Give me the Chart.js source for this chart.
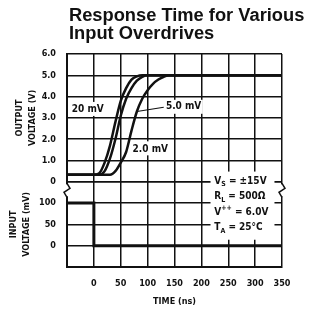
<!DOCTYPE html>
<html>
<head>
<meta charset="utf-8">
<script src="https://cdn.jsdelivr.net/npm/chart.js@4.4.1/dist/chart.umd.min.js"></script>
<style>
  html, body { margin: 0; padding: 0; background: #fff; }
  #wrap { width: 311px; height: 317px; }
</style>
</head>
<body>
<div id="wrap"><canvas id="responseChart"></canvas></div>
<script>
// time axis (ns), -50 gridline is left unlabeled
const timeTicks = [-50, 0, 50, 100, 150, 200, 250, 300, 350];
const outLabels = ['0', '1.0', '2.0', '3.0', '4.0', '5.0', '6.0'];
const inLabels = { 0: '0', 50: '50', 100: '100' };
const titleLines = ['Response Time for Various', 'Input Overdrives'];

// output voltage (V) vs time (ns)
const t20mV = [-50, 0, 10, 20, 30, 40, 50, 60, 70, 80, 90, 350];
const v20mV = [0.33, 0.33, 0.4, 0.9, 1.7, 2.8, 3.8, 4.4, 4.8, 4.95, 5.0, 5.0];
const t5mV = [-50, 10, 20, 30, 40, 50, 60, 70, 80, 90, 100, 350];
const v5mV = [0.33, 0.33, 0.5, 1.1, 2.0, 3.1, 3.9, 4.4, 4.75, 4.93, 5.0, 5.0];
const t2mV = [-50, 30, 40, 50, 60, 70, 80, 90, 100, 110, 120, 130, 140, 350];
const v2mV = [0.33, 0.33, 0.5, 0.9, 1.4, 2.4, 3.3, 3.9, 4.3, 4.6, 4.8, 4.93, 5.0, 5.0];

// input step (mV)
const tInput = [-50, 0, 0, 350];
const vInput = [100, 100, 0, 0];

const ink = '#111';
const tickFont = { family: '"DejaVu Sans Condensed", "Liberation Sans Narrow", "DejaVu Sans", sans-serif', weight: 'bold', size: 9 };
const noteFamily = '"DejaVu Sans Condensed", "Liberation Sans Narrow", "DejaVu Sans", sans-serif';

function pts(xs, ys) {
    return xs.map((x, i) => ({ x: x, y: ys[i] }));
}

function curve(label, xs, ys) {
    return {
        label: label,
        data: pts(xs, ys),
        yAxisID: 'y',
        borderColor: ink,
        borderWidth: 2.5,
        pointRadius: 0,
        showLine: true,
        cubicInterpolationMode: 'monotone'
    };
}

// text drawn with sub/superscripts
function drawParts(ctx, x, y, parts, size) {
    let cx = x;
    parts.forEach(p => {
        const s = p[1] === 'n' ? size : size * 0.7;
        const dy = p[1] === 'sub' ? size * 0.3 : (p[1] === 'sup' ? -size * 0.35 : 0);
        ctx.font = 'bold ' + s + 'px ' + noteFamily;
        ctx.fillText(p[0], cx, y + dy);
        cx += ctx.measureText(p[0]).width;
    });
    return cx - x;
}

const notes = {
    id: 'notes',
    beforeDatasetsDraw(chart) {
        const ctx = chart.ctx;
        const sx = chart.scales.x, so = chart.scales.y, si = chart.scales.y2;
        ctx.save();
        ctx.fillStyle = '#fff';
        // behind "20 mV"
        ctx.fillRect(sx.getPixelForValue(-43), so.getPixelForValue(3.75), 44, 14);
        // behind "2.0 mV"
        ctx.fillRect(sx.getPixelForValue(70), so.getPixelForValue(1.9), 32, 14);
        // behind "5.0 mV"
        ctx.fillRect(sx.getPixelForValue(132), so.getPixelForValue(3.85), 38, 14);
        // condition box
        const bx = sx.getPixelForValue(217), bx2 = sx.getPixelForValue(336);
        const by = si.getPixelForValue(174), by2 = si.getPixelForValue(14);
        ctx.fillRect(bx, by, bx2 - bx, by2 - by);
        ctx.restore();
    },
    afterDatasetsDraw(chart) {
        const ctx = chart.ctx;
        const sx = chart.scales.x, so = chart.scales.y, si = chart.scales.y2;
        ctx.save();
        ctx.fillStyle = ink;
        ctx.strokeStyle = ink;
        ctx.textBaseline = 'middle';
        ctx.textAlign = 'left';

        drawParts(ctx, sx.getPixelForValue(-41), so.getPixelForValue(3.41), [['20 mV', 'n']], 10);
        drawParts(ctx, sx.getPixelForValue(134), so.getPixelForValue(3.52), [['5.0 mV', 'n']], 10);
        drawParts(ctx, sx.getPixelForValue(72), so.getPixelForValue(1.52), [['2.0 mV', 'n']], 10);

        // pointer for 5.0 mV
        ctx.lineWidth = 1.2;
        ctx.beginPath();
        ctx.moveTo(sx.getPixelForValue(130), so.getPixelForValue(3.5));
        ctx.lineTo(sx.getPixelForValue(80), so.getPixelForValue(3.3));
        ctx.stroke();

        // test conditions
        const cx = sx.getPixelForValue(224);
        drawParts(ctx, cx, si.getPixelForValue(152), [['V', 'n'], ['S', 'sub'], [' = \u00b115V', 'n']], 10);
        drawParts(ctx, cx, si.getPixelForValue(115), [['R', 'n'], ['L', 'sub'], [' = 500\u03a9', 'n']], 10);
        drawParts(ctx, cx, si.getPixelForValue(79), [['V', 'n'], ['++', 'sup'], [' = 6.0V', 'n']], 10);
        drawParts(ctx, cx, si.getPixelForValue(42), [['T', 'n'], ['A', 'sub'], [' = 25\u00b0C', 'n']], 10);

        // axis break marks
        const yb = si.getPixelForValue(130);
        [chart.chartArea.left, chart.chartArea.right].forEach(xb => {
            ctx.fillStyle = '#fff';
            ctx.fillRect(xb - 2, yb - 6, 4, 12);
            ctx.lineWidth = 1.5;
            ctx.beginPath();
            ctx.moveTo(xb, yb - 7);
            ctx.lineTo(xb + 3, yb - 2);
            ctx.lineTo(xb - 3, yb + 2);
            ctx.lineTo(xb, yb + 7);
            ctx.stroke();
        });

        // two-line heading, left aligned a little right of the plot edge
        ctx.fillStyle = ink;
        ctx.font = 'bold 18.3px "Liberation Sans", Arial, sans-serif';
        ctx.textBaseline = 'alphabetic';
        titleLines.forEach((line, i) => {
            ctx.fillText(line, chart.chartArea.left + 2, 21 + i * 17.5);
        });
        ctx.restore();
    }
};

const ctx = document.getElementById('responseChart').getContext('2d');
const responseChart = new Chart(ctx, {
    type: 'scatter',
    data: {
        datasets: [
            curve('20 mV', t20mV, v20mV),
            curve('5.0 mV', t5mV, v5mV),
            curve('2.0 mV', t2mV, v2mV),
            {
                label: 'Input',
                data: pts(tInput, vInput),
                yAxisID: 'y2',
                borderColor: ink,
                borderWidth: 3,
                pointRadius: 0,
                showLine: true,
                tension: 0
            }
        ]
    },
    options: {
        responsive: true,
        maintainAspectRatio: false,
        devicePixelRatio: 1,
        animation: false,
        layout: { padding: { left: 0, right: 29, top: 54, bottom: 0 } },
        scales: {
            x: {
                type: 'linear',
                min: -50,
                max: 350,
                afterBuildTicks: s => { s.ticks = timeTicks.map(v => ({ value: v })); },
                afterFit: s => { s.height = 50; },
                grid: { color: ink, lineWidth: 1.5, drawTicks: false },
                border: { color: ink, width: 2 },
                ticks: {
                    color: ink,
                    font: tickFont,
                    padding: 11,
                    maxRotation: 0,
                    autoSkip: false,
                    callback: v => (v < 0 ? '' : String(v))
                },
                title: {
                    display: true,
                    text: 'TIME (ns)',
                    color: ink,
                    font: tickFont,
                    padding: { top: 0, bottom: 10 }
                }
            },
            // lower panel is declared first so it stacks below the output panel
            y2: {
                type: 'linear',
                position: 'left',
                stack: 'volts',
                stackWeight: 4,
                min: -50,
                max: 150,
                afterFit: s => { s.width = 67; },
                grid: { color: ink, lineWidth: 1.5, drawTicks: false },
                border: { color: ink, width: 2 },
                ticks: {
                    stepSize: 50,
                    autoSkip: false,
                    color: ink,
                    font: tickFont,
                    padding: 11,
                    callback: v => (inLabels[v] !== undefined ? inLabels[v] : '')
                },
                title: {
                    display: true,
                    text: ['INPUT', 'VOLTAGE (mV)'],
                    color: ink,
                    font: { family: tickFont.family, weight: 'bold', size: 9, lineHeight: 1.35 },
                    padding: { top: 8, bottom: 0 }
                }
            },
            y: {
                type: 'linear',
                position: 'left',
                stack: 'volts',
                stackWeight: 6,
                min: 0,
                max: 6,
                afterFit: s => { s.width = 67; },
                grid: { color: ink, lineWidth: 1.5, drawTicks: false },
                border: { color: ink, width: 2 },
                ticks: {
                    stepSize: 1,
                    autoSkip: false,
                    color: ink,
                    font: tickFont,
                    padding: 11,
                    callback: v => outLabels[v]
                },
                title: {
                    display: true,
                    text: ['OUTPUT', 'VOLTAGE (V)'],
                    color: ink,
                    font: { family: tickFont.family, weight: 'bold', size: 9, lineHeight: 1.35 },
                    padding: { top: 14, bottom: 0 }
                }
            }
        },
        plugins: {
            legend: { display: false },
            tooltip: { enabled: false },
            title: { display: false }
        }
    },
    plugins: [notes]
});
</script>
</body>
</html>
